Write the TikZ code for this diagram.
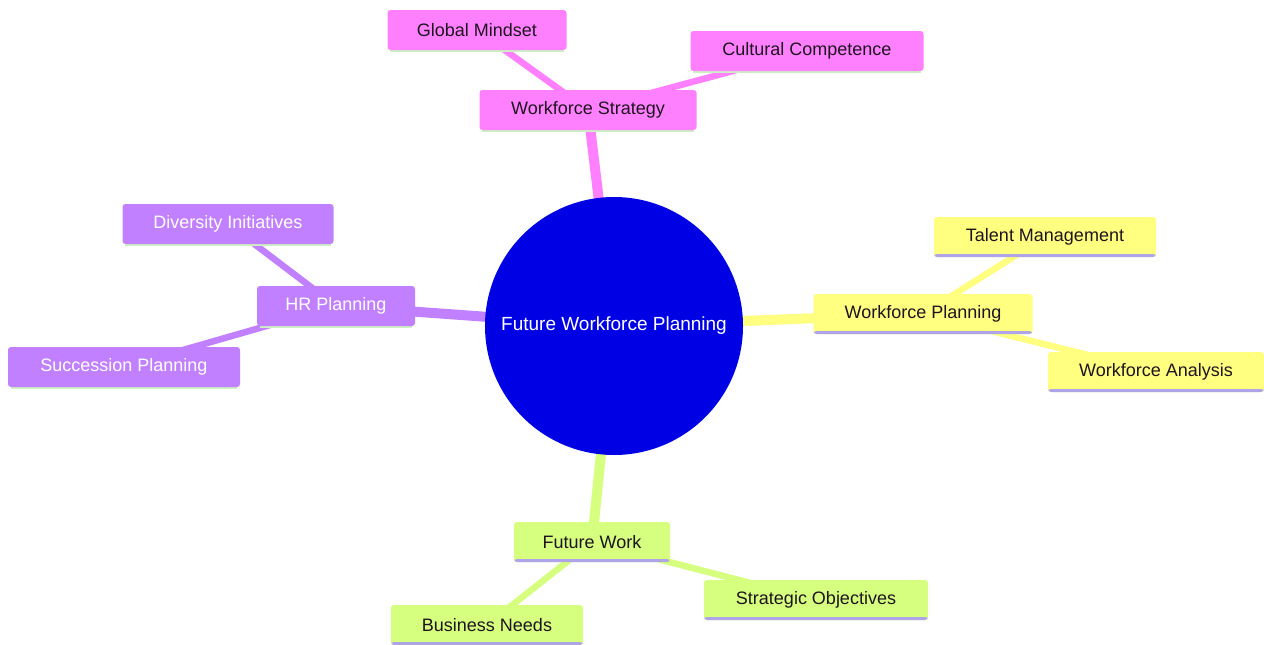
\documentclass[tikz,border=0pt]{standalone}
\usepackage{fontspec}
\setmainfont{Liberation Sans}
\usetikzlibrary{backgrounds}
\definecolor{pinkc}{RGB}{255,128,255}
\definecolor{purpc}{RGB}{192,128,255}
\definecolor{yelc}{RGB}{255,255,128}
\definecolor{grnc}{RGB}{214,255,128}
\definecolor{bluec}{RGB}{0,0,228}
\definecolor{lav}{RGB}{176,164,232}
\definecolor{shgreen}{RGB}{205,240,195}
\definecolor{txtc}{RGB}{30,20,30}
\tikzset{
  box/.style={rectangle, rounded corners=3pt, minimum height=40pt, inner sep=0pt,
    font=\fontsize{18}{21}\selectfont, text=txtc},
  pinkbox/.style={box, fill=pinkc},
  purpbox/.style={box, fill=purpc, text=white},
  yelbox/.style={box, fill=yelc, path picture={\fill[lav] (path picture bounding box.south west) rectangle ([yshift=3pt]path picture bounding box.south east);}},
  grnbox/.style={box, fill=grnc, path picture={\fill[lav] (path picture bounding box.south west) rectangle ([yshift=3pt]path picture bounding box.south east);}},
  mainedge/.style={line width=10pt},
  subedge/.style={line width=6.5pt},
  shline/.style={shgreen, line width=2pt}
}
\begin{document}
\begin{tikzpicture}[x=1pt,y=-1pt]
\useasboundingbox (0,0) rectangle (1264,645);
% center
\node[circle, fill=bluec, minimum size=258pt, inner sep=0pt, text=white,
  font=\fontsize{19}{22}\selectfont] (c) at (614,326) {Future Workforce Planning};
% top branch
\node[pinkbox, minimum width=217pt] (ws) at (588,110) {Workforce Strategy};
\node[pinkbox, minimum width=179pt] (gm) at (477,30) {Global Mindset};
\node[pinkbox, minimum width=233pt] (cc) at (807,51) {Cultural Competence};
% left branch
\node[purpbox, minimum width=158pt] (hr) at (336,306) {HR Planning};
\node[purpbox, minimum width=211pt] (di) at (228,224) {Diversity Initiatives};
\node[purpbox, minimum width=232pt] (sp) at (124,367) {Succession Planning};
% right branch
\node[yelbox, minimum width=219pt] (wp) at (923,314) {Workforce Planning};
\node[yelbox, minimum width=222pt] (tm) at (1045,237) {Talent Management};
\node[yelbox, minimum width=216pt] (wa) at (1156,372) {Workforce Analysis};
% bottom branch
\node[grnbox, minimum width=156pt] (fw) at (592,542) {Future Work};
\node[grnbox, minimum width=192pt] (bn) at (487,625) {Business Needs};
\node[grnbox, minimum width=224pt] (so) at (816,600) {Strategic Objectives};
\begin{pgfonlayer}{background}
  \fill[white] (0,0) rectangle (1264,645);
  \draw[mainedge, pinkc] (c.center) -- (ws.center);
  \draw[mainedge, purpc] (c.center) -- (hr.center);
  \draw[mainedge, yelc] (c.center) -- (wp.center);
  \draw[mainedge, grnc] (c.center) -- (fw.center);
  \draw[subedge, pinkc] (ws.center) -- (gm.center);
  \draw[subedge, pinkc] (ws.center) -- (cc.center);
  \draw[subedge, purpc] (hr.center) -- (di.center);
  \draw[subedge, purpc] (hr.center) -- (sp.center);
  \draw[subedge, yelc] (wp.center) -- (tm.center);
  \draw[subedge, yelc] (wp.center) -- (wa.center);
  \draw[subedge, grnc] (fw.center) -- (bn.center);
  \draw[subedge, grnc] (fw.center) -- (so.center);
  \foreach \n in {ws,gm,cc,hr,di,sp}
    \draw[shline] ([xshift=3pt,yshift=-1pt]\n.south west) -- ([xshift=-3pt,yshift=-1pt]\n.south east);
\end{pgfonlayer}
\end{tikzpicture}
\end{document}
